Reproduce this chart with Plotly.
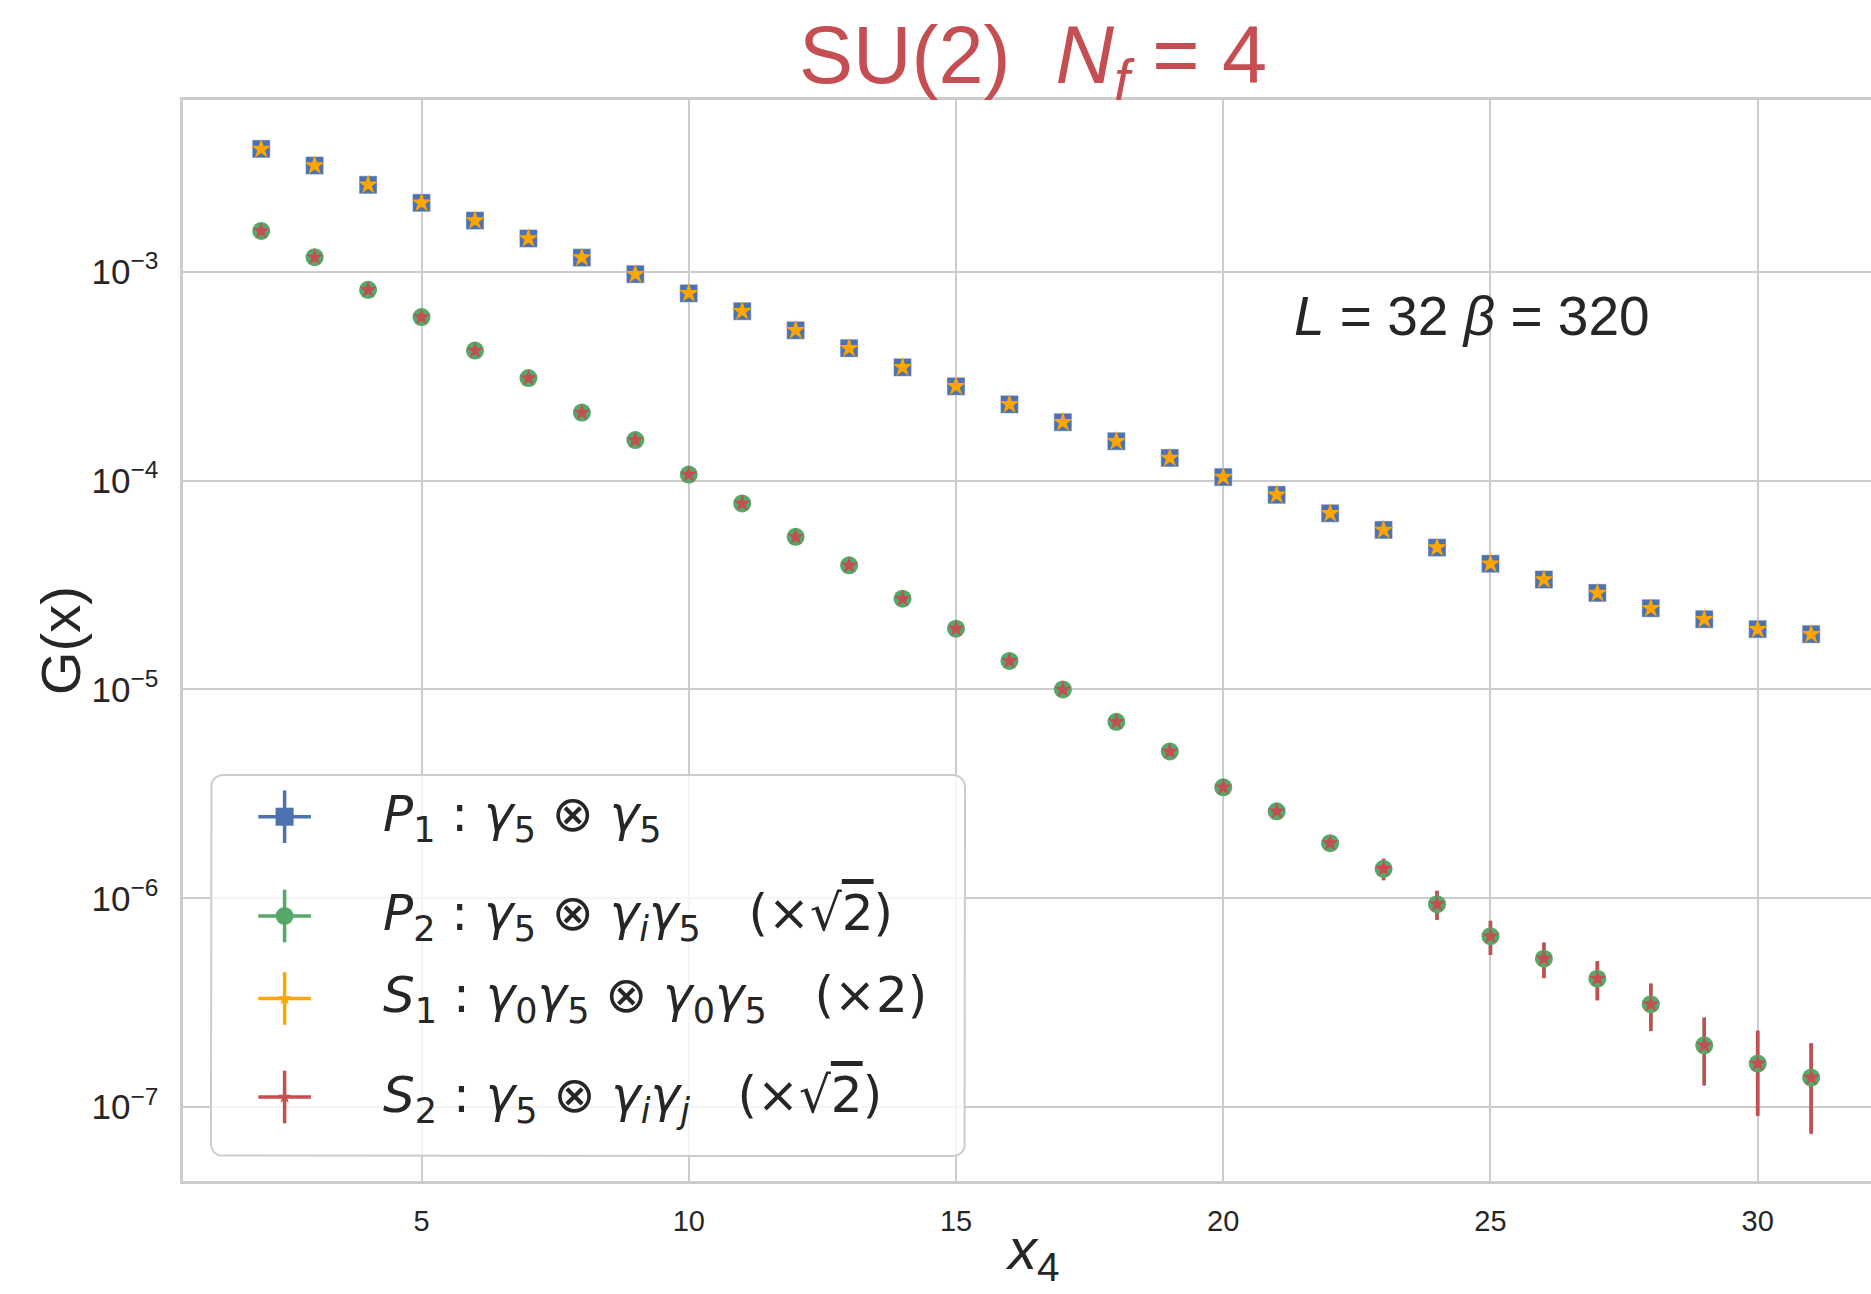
import math
import plotly.graph_objects as go

# Euclidean time separations
x4 = list(range(2, 32))

# P1 : gamma5 x gamma5
p1_vals = [3.88e-3, 3.23e-3, 2.61e-3, 2.14e-3, 1.76e-3, 1.445e-3, 1.17e-3, 9.75e-4,
           7.89e-4, 6.48e-4, 5.25e-4, 4.31e-4, 3.49e-4, 2.83e-4, 2.32e-4, 1.905e-4,
           1.545e-4, 1.285e-4, 1.04e-4, 8.55e-5, 6.98e-5, 5.81e-5, 4.78e-5, 4.0e-5,
           3.36e-5, 2.9e-5, 2.45e-5, 2.17e-5, 1.945e-5, 1.84e-5]
p1_err = [6e-6, 5e-6, 4e-6, 3.5e-6, 3e-6, 2.5e-6, 2e-6, 1.7e-6, 1.4e-6, 1.2e-6,
          1e-6, 8e-7, 7e-7, 6e-7, 5e-7, 4.5e-7, 4e-7, 3.5e-7, 3e-7, 2.8e-7,
          2.5e-7, 2.3e-7, 2.1e-7, 2e-7, 1.9e-7, 1.8e-7, 1.7e-7, 1.6e-7, 1.6e-7, 1.5e-7]

# P2 : gamma5 x gamma_i gamma5  (x sqrt 2)
p2_vals = [1.57e-3, 1.175e-3, 8.2e-4, 6.07e-4, 4.2e-4, 3.1e-4, 2.12e-4, 1.565e-4,
           1.07e-4, 7.78e-5, 5.38e-5, 3.93e-5, 2.72e-5, 1.955e-5, 1.37e-5, 1.0e-5,
           7.0e-6, 5.05e-6, 3.4e-6, 2.61e-6, 1.837e-6, 1.383e-6, 9.37e-7, 6.58e-7,
           5.14e-7, 4.12e-7, 3.11e-7, 1.977e-7, 1.615e-7, 1.384e-7]
p2_err = [1.2e-6, 1.0e-6, 8e-7, 7e-7, 5e-7, 4e-7, 3e-7, 2.5e-7, 2e-7, 1.6e-7,
          1.2e-7, 1.0e-7, 8e-8, 7e-8, 6e-8, 5e-8, 4.5e-8, 4e-8, 4e-8, 4.5e-8,
          6e-8, 1.6e-7, 1.45e-7, 1.2e-7, 9.8e-8, 8.6e-8, 7.8e-8, 7e-8, 7e-8, 6.3e-8]

# S1 : gamma0 gamma5 x gamma0 gamma5  (x 2)
s1_vals = [3.88e-3, 3.23e-3, 2.61e-3, 2.14e-3, 1.76e-3, 1.445e-3, 1.17e-3, 9.75e-4,
           7.89e-4, 6.48e-4, 5.25e-4, 4.31e-4, 3.49e-4, 2.83e-4, 2.32e-4, 1.905e-4,
           1.545e-4, 1.285e-4, 1.04e-4, 8.55e-5, 6.98e-5, 5.81e-5, 4.78e-5, 4.0e-5,
           3.36e-5, 2.9e-5, 2.45e-5, 2.17e-5, 1.945e-5, 1.84e-5]
s1_err = [6e-6, 5e-6, 4e-6, 3.5e-6, 3e-6, 2.5e-6, 2e-6, 1.7e-6, 1.4e-6, 1.2e-6,
          1e-6, 8e-7, 7e-7, 6e-7, 5e-7, 4.5e-7, 4e-7, 3.5e-7, 3e-7, 2.8e-7,
          2.5e-7, 2.3e-7, 2.1e-7, 2e-7, 1.9e-7, 1.8e-7, 1.7e-7, 1.6e-7, 1.6e-7, 1.5e-7]

# S2 : gamma5 x gamma_i gamma_j  (x sqrt 2)
s2_vals = [1.57e-3, 1.175e-3, 8.2e-4, 6.07e-4, 4.2e-4, 3.1e-4, 2.12e-4, 1.565e-4,
           1.07e-4, 7.78e-5, 5.38e-5, 3.93e-5, 2.72e-5, 1.955e-5, 1.37e-5, 1.0e-5,
           7.0e-6, 5.05e-6, 3.4e-6, 2.61e-6, 1.837e-6, 1.383e-6, 9.37e-7, 6.58e-7,
           5.14e-7, 4.12e-7, 3.11e-7, 1.977e-7, 1.615e-7, 1.384e-7]
s2_err = [1.2e-6, 1.0e-6, 8e-7, 7e-7, 5e-7, 4e-7, 3e-7, 2.5e-7, 2e-7, 1.6e-7,
          1.2e-7, 1.0e-7, 8e-8, 7e-8, 6e-8, 5e-8, 4.5e-8, 4e-8, 4e-8, 4.5e-8,
          6e-8, 1.65e-7, 1.5e-7, 1.23e-7, 1.0e-7, 8.8e-8, 8e-8, 7.1e-8, 7.1e-8, 6.4e-8]

x_ticks = [5, 10, 15, 20, 25, 30]

ov = "<span style='text-decoration:overline'>2</span>"
sp = "\u00a0"
legend_labels = [
    "<i>P</i><sub>1</sub> : <i>γ</i><sub>5</sub> ⊗ <i>γ</i><sub>5</sub>",
    "<i>P</i><sub>2</sub> : <i>γ</i><sub>5</sub> ⊗ <i>γ</i><sub><i>i</i></sub><i>γ</i><sub>5</sub>"
    + sp * 3 + "(×√" + ov + ")",
    "<i>S</i><sub>1</sub> : <i>γ</i><sub>0</sub><i>γ</i><sub>5</sub> ⊗ <i>γ</i><sub>0</sub><i>γ</i><sub>5</sub>"
    + sp * 3 + "(×2)",
    "<i>S</i><sub>2</sub> : <i>γ</i><sub>5</sub> ⊗ <i>γ</i><sub><i>i</i></sub><i>γ</i><sub><i>j</i></sub>"
    + sp * 3 + "(×√" + ov + ")",
]

BLUE, GREEN, ORANGE, RED = "#4C72B0", "#55A868", "#FFA500", "#C44E52"
TXT = "#262626"
GRID = "#cccccc"

W, H = 1871, 1294
ML, MR, MT, MB = 183, 0, 100, 113
PW, PH = W - ML - MR, H - MT - MB


def dx(px):
    return (px - ML) / PW


def dy(py):
    return (H - MB - py) / PH


series = [
    (p1_vals, p1_err, BLUE, "square", 18),
    (p2_vals, p2_err, GREEN, "circle", 18),
    (s1_vals, s1_err, ORANGE, "star", 15),
    (s2_vals, s2_err, RED, "star", 13),
]

fig = go.Figure()

# error bars first so every marker sits on top of them
for vals, err, col, sym, size in series:
    fig.add_trace(go.Scatter(
        x=x4, y=vals, mode="markers",
        marker=dict(size=1, opacity=0),
        error_y=dict(type="data", array=err, color=col, thickness=3.5, width=0),
        showlegend=False, hoverinfo="skip"))

for vals, err, col, sym, size in series:
    fig.add_trace(go.Scatter(
        x=x4, y=vals, mode="markers",
        marker=dict(symbol=sym, size=size, color=col,
                    line=dict(width=1 if sym == "square" else 0,
                              color="rgba(255,255,255,0.45)")),
        showlegend=False))

# rounded legend frame on an overlay axis spanning the plot area
# (corner arcs in screen pixels, y pointing down: TR, BR, BL, TL)
bx0, bx1, by0, by1, rad = 211, 965, 775, 1156, 12
corners = [(bx1 - rad, by0 + rad, 270, 360), (bx1 - rad, by1 - rad, 0, 90),
           (bx0 + rad, by1 - rad, 90, 180), (bx0 + rad, by0 + rad, 180, 270)]
fx, fy = [], []
for cx, cy, a0, a1 in corners:
    for k in range(7):
        a = math.radians(a0 + (a1 - a0) * k / 6)
        fx.append(dx(cx + rad * math.cos(a)))
        fy.append(dy(cy + rad * math.sin(a)))
fx.append(fx[0])
fy.append(fy[0])
fig.add_trace(go.Scatter(
    x=fx, y=fy, xaxis="x2", yaxis="y2", mode="lines", fill="toself",
    fillcolor="rgba(255,255,255,0.8)", line=dict(color=GRID, width=2),
    showlegend=False, hoverinfo="skip"))

# legend handles: marker with horizontal and vertical bars
row_y = [816.7, 916.0, 998.5, 1097.0]
hx = dx(284.6)
for (vals, err, col, sym, size), ry in zip(series, row_y):
    hsize = size if sym != "star" else 10
    fig.add_trace(go.Scatter(
        x=[hx], y=[dy(ry)], xaxis="x2", yaxis="y2", mode="markers",
        marker=dict(symbol=sym, size=hsize, color=col, line=dict(width=0)),
        error_x=dict(type="data", array=[26.3 / PW], color=col, thickness=3.5, width=0),
        error_y=dict(type="data", array=[26.3 / PH], color=col, thickness=3.5, width=0),
        showlegend=False, hoverinfo="skip"))

text_mid = [818, 916, 998, 1098]
for lab, ty in zip(legend_labels, text_mid):
    fig.add_annotation(x=dx(381), y=dy(ty), xref="paper", yref="paper",
                       text=lab, showarrow=False, xanchor="left", yanchor="middle",
                       font=dict(family="DejaVu Sans", size=50, color=TXT))

fig.add_annotation(x=dx(1292), y=dy(316), xref="paper", yref="paper",
                   text="<i>L</i>" + sp + "=" + sp + "32" + sp + "<i>β</i>" + sp + "=" + sp + "320",
                   showarrow=False, xanchor="left", yanchor="middle",
                   font=dict(family="Liberation Sans, Arial", size=55, color=TXT))

# axis titles
fig.add_annotation(x=dx(1032), y=dy(1253), xref="paper", yref="paper",
                   text="<i>x</i><sub>4</sub>", showarrow=False,
                   xanchor="center", yanchor="middle",
                   font=dict(family="Liberation Sans, Arial", size=58, color=TXT))
fig.add_annotation(x=dx(60), y=dy(641), xref="paper", yref="paper",
                   text="G(x)", showarrow=False, textangle=-90,
                   xanchor="center", yanchor="middle",
                   font=dict(family="Liberation Sans, Arial", size=56, color=TXT))

fig.update_layout(
    width=W, height=H,
    margin=dict(l=ML, r=MR, t=MT, b=MB),
    paper_bgcolor="white", plot_bgcolor="white",
    title=dict(text="SU(2)" + sp * 2 + "<i>N</i><sub><i>f</i></sub> = 4",
               x=1033 / W, xref="container", xanchor="center",
               y=1 - 55 / H, yref="container", yanchor="middle",
               font=dict(family="Liberation Sans, Arial", size=81, color=RED)),
    xaxis=dict(range=[0.537, 32.12], tickvals=x_ticks, showgrid=True,
               gridcolor=GRID, gridwidth=2, showline=True, linecolor=GRID,
               linewidth=3, mirror=True, zeroline=False, ticks="",
               ticklabelstandoff=12,
               tickfont=dict(family="Liberation Sans, Arial", size=29, color=TXT)),
    yaxis=dict(type="log", range=[-7.354, -2.177], dtick=1, exponentformat="power",
               showgrid=True, gridcolor=GRID, gridwidth=2, showline=True,
               linecolor=GRID, linewidth=3, zeroline=False, ticks="",
               ticklabelstandoff=16,
               tickfont=dict(family="Liberation Sans, Arial", size=28, color=TXT)),
    xaxis2=dict(overlaying="x", range=[0, 1], visible=False, fixedrange=True),
    yaxis2=dict(overlaying="y", range=[0, 1], visible=False, fixedrange=True),
)

fig.write_html("out.html")
